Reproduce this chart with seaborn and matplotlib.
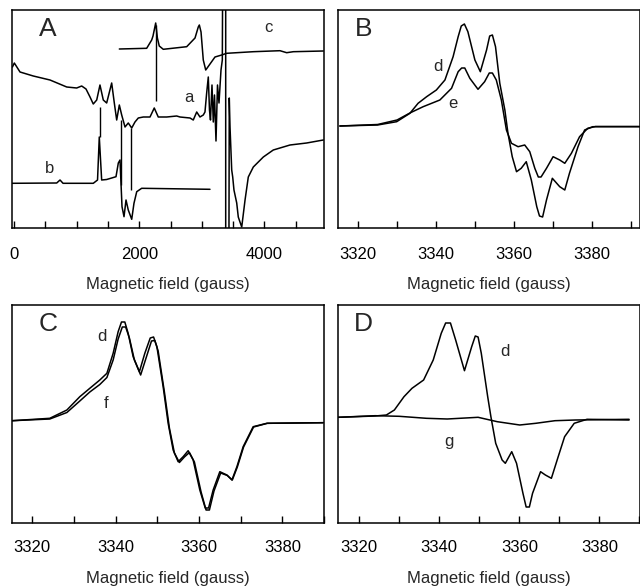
import matplotlib
matplotlib.use("Agg")
import matplotlib.pyplot as plt
import seaborn as sns

# ---------------- Panel A (wide sweep, gauss vs arbitrary intensity) ----------------
a_field = [-25, 5, 96, 308, 575, 842, 1001, 1081, 1150, 1214, 1266, 1321, 1373, 1426, 1480,
           1560, 1602, 1640, 1682, 1720, 1773, 1825, 1880, 1932, 1985, 2065, 2172, 2240, 2304,
           2439, 2598, 2651, 2811, 2863, 2918, 2970, 3023, 3050, 3077, 3103, 3122, 3138, 3162,
           3183, 3202, 3226, 3250, 3274, 3306, 3327, 3343, 3381, 3381, 3426, 3438, 3450, 3477,
           3493, 3513, 3557, 3582, 3609, 3637, 3690, 3742, 3822, 3982, 4141, 4408, 4674, 4940]
a_signal = [161, 165, 156, 152, 148, 141, 140, 142, 139, 131, 124, 128, 143, 128, 125,
            145, 125, 108, 123, 113, 101, 105, 100, 106, 110, 111, 111, 120, 111,
            111, 112, 111, 110, 108, 116, 111, 113, 116, 135, 151, 118, 108, 143,
            106, 133, 87, 143, 125, 158, 168, 400, 400, -200, -200, 130, 101, 58,
            51, 38, 25, 11, 6, 1, 28, 51, 61, 71, 78, 83, 85, 88]

b_field = [-27, 682, 735, 783, 1266, 1334, 1362, 1400, 1480, 1560, 1629, 1666, 1693, 1725,
           1757, 1789, 1825, 1880, 1916, 1960, 2039, 3130]
b_signal = [44.7, 45, 48, 44.7, 44.7, 48, 91, 48, 48.5, 50, 51.3, 65, 68, 21.3,
            11.3, 28, 18, 8.7, 24.7, 36.3, 39.7, 38.7]

c_field = [1682, 2119, 2199, 2220, 2263, 2290, 2320, 2384, 2758, 2891, 2943, 2960, 2987,
           3023, 3062, 3119, 3210, 3317, 3397, 3822, 4248, 4355, 4461, 4940]
c_signal = [179, 179.7, 188, 192, 205, 190, 182, 178.7, 181.3, 190, 201, 203, 196,
            168, 158, 163, 171, 173, 174.7, 176.3, 177.3, 175.3, 176.3, 177]

guide_field = [1373, 1704, 1864, 2261]
guide_low = [91, 43, 38, 127]
guide_high = [121, 108, 100, 203]

# ---------------- Panel B (spectra d and e) ----------------
bd_field = [3315.3, 3325, 3329.9, 3333.3, 3335.4, 3337.6, 3340.1, 3342.3, 3344.4, 3345.7,
            3346.5, 3347.3, 3348.2, 3350.0, 3351.4, 3353.0, 3353.8, 3354.5, 3355.3, 3356.4,
            3357.7, 3358.5, 3359.6, 3360.7, 3361.9, 3363.2, 3364.5, 3365.9, 3366.6, 3367.4,
            3368.4, 3369.9, 3371.8, 3373.1, 3374.3, 3376.5, 3378.2, 3380.3, 3392.3]
bd_signal = [102, 103, 106.3, 114.7, 124.7, 131.3, 138, 148, 171.3, 191.3,
             202, 204, 196.3, 168, 156.3, 178, 192, 193, 181.3, 144.7,
             118, 94.7, 71.3, 56.3, 59.7, 66.3, 48, 21.3, 12, 11,
             28, 49.7, 41.3, 38, 54.7, 81.3, 98, 101.3, 101.3]
be_field = [3315.3, 3325, 3330, 3333.3, 3336.7, 3341.0, 3344.0, 3345.7, 3346.6, 3347.4,
            3348.7, 3350.8, 3352.5, 3353.7, 3354.5, 3355.5, 3356.8, 3358.1, 3359.4, 3361.1,
            3362.8, 3364.1, 3365.4, 3366.3, 3367.0, 3368.4, 3370.1, 3371.8, 3373.1, 3374.8,
            3376.9, 3379.0, 3381, 3392.3]
be_signal = [102, 103.5, 108, 115, 121.3, 128, 139.7, 156.3, 160, 160,
             149.7, 138.7, 146.3, 155, 155, 148, 128, 98, 84.7, 81.3,
             83, 76.3, 59.7, 51, 51, 59.7, 71.3, 68, 64.7, 74.7,
             91.3, 99.7, 101.5, 101.5]

# ---------------- Panel C (spectra d and f) ----------------
cd_field = [3315.2, 3324.2, 3328.3, 3331.4, 3333.8, 3336.2, 3337.9, 3339.4, 3340.6, 3341.4,
            3342.2, 3343.0, 3344.2, 3345.7, 3347.0, 3348.3, 3349.1, 3349.9, 3351.4, 3352.6,
            3353.8, 3355.0, 3356.2, 3357.4, 3358.6, 3360.2, 3361.5, 3362.3, 3363.4, 3365.0,
            3366.7, 3367.9, 3369.1, 3370.6, 3373.0, 3376.3, 3389.8]
cd_signal = [102.3, 104.7, 113, 126.3, 134.7, 143, 149.7, 169.7, 191.3, 201,
             201, 189.7, 166.3, 151.3, 169.7, 185, 186, 176.3, 136.3, 99.7,
             73, 61.3, 66.3, 72.3, 63, 33, 15, 15, 33, 51.3,
             48, 43, 56.3, 76.3, 96.3, 99.7, 100.3]
cf_field = [3315.2, 3324.2, 3328.3, 3331.4, 3333.8, 3336.2, 3337.9, 3339.4, 3340.6, 3341.6,
            3342.4, 3343.3, 3344.5, 3346.0, 3347.3, 3348.6, 3349.4, 3350.2, 3351.7, 3352.9,
            3354.1, 3355.3, 3356.5, 3357.7, 3358.9, 3360.5, 3361.7, 3362.5, 3363.6, 3365.2,
            3366.8, 3368.0, 3369.2, 3370.7, 3373.1, 3376.4, 3389.8]
cf_signal = [102.3, 104, 110.5, 122, 131, 138.5, 145.5, 163, 184, 196,
             196, 185, 163, 148, 165, 182, 182.5, 172, 131, 95,
             70, 60.5, 66, 70.5, 61, 31, 13, 13, 32, 50,
             47.5, 43, 56, 76, 96, 99.7, 100.3]

# ---------------- Panel D (spectra d and g) ----------------
dd_field = [3314.8, 3324.0, 3326.8, 3328.8, 3331.2, 3333.2, 3336.1, 3338.5, 3340.5, 3341.6,
            3342.8, 3344.1, 3346.3, 3348.1, 3349.0, 3349.7, 3350.5, 3352.1, 3352.9, 3354.1,
            3355.7, 3356.5, 3358.1, 3359.3, 3360.9, 3361.7, 3362.5, 3363.3, 3365.3, 3366.5,
            3368.0, 3369.7, 3371.3, 3373.7, 3376.9, 3387.4]
dd_signal = [105.7, 107, 108, 113, 126.3, 134.7, 143, 163, 189.7, 200,
             200, 183, 152.3, 176.3, 187, 186, 169.7, 126.3, 106.3, 79.7,
             63, 59.7, 71.3, 59.7, 29.7, 16, 16, 29.7, 51.3, 48,
             44.7, 66.3, 86.3, 99.7, 103.7, 103]
dg_field = [3314.8, 3324.0, 3330, 3336.8, 3342, 3349.7, 3354.5, 3360.1, 3364.1, 3368.9,
            3374, 3387.4]
dg_signal = [105.7, 107.3, 106.7, 104.7, 104, 105.7, 101.3, 98, 99.7, 102.3,
             103, 103.7]

sns.set_style("ticks")
plt.rcParams["font.family"] = ["Liberation Sans", "DejaVu Sans"]
plt.rcParams["font.size"] = 12

fig = plt.figure(figsize=(6.4, 5.87), dpi=100)
W, H = 640.0, 587.0

def make_ax(x0, x1, ytop, ybot):
    return fig.add_axes([x0 / W, 1 - ybot / H, (x1 - x0) / W, (ybot - ytop) / H])

axA = make_ax(12, 324, 10, 228)
axB = make_ax(338.3, 639.5, 10, 228)
axC = make_ax(12.3, 324, 305, 523)
axD = make_ax(338.3, 639.5, 305, 523)

line_kw = dict(color="black", linewidth=1.1, sort=False, estimator=None)

sns.lineplot(x=a_field, y=a_signal, ax=axA, **line_kw)
sns.lineplot(x=b_field, y=b_signal, ax=axA, **line_kw)
sns.lineplot(x=c_field, y=c_signal, ax=axA, **line_kw)
axA.vlines(guide_field, guide_low, guide_high, color="black", linewidth=1.0)

sns.lineplot(x=bd_field, y=bd_signal, ax=axB, **line_kw)
sns.lineplot(x=be_field, y=be_signal, ax=axB, **line_kw)
sns.lineplot(x=cd_field, y=cd_signal, ax=axC, **line_kw)
sns.lineplot(x=cf_field, y=cf_signal, ax=axC, **line_kw)
sns.lineplot(x=dd_field, y=dd_signal, ax=axD, **line_kw)
sns.lineplot(x=dg_field, y=dg_signal, ax=axD, **line_kw)

axA.set_xlim(-32, 4951)
axB.set_xlim(3314.9, 3392.3)
axC.set_xlim(3315.2, 3390.0)
axD.set_xlim(3314.8, 3387.4)

for ax in (axA, axB, axC, axD):
    ax.set_ylim(0, 218)
    ax.set_yticks([])
    ax.set_ylabel("")
    for s in ax.spines.values():
        s.set_visible(True)
        s.set_linewidth(1.1)
        s.set_color("black")
    top_row = ax in (axA, axB)
    ax.tick_params(axis="x", direction="in", length=5, width=1.0,
                   pad=13.5 if top_row else 12, labelsize=12, colors="black")
    ax.set_xlabel("Magnetic field (gauss)", fontsize=12, labelpad=11 if top_row else 12)

axA.set_xticks(list(range(0, 5000, 500)))
axA.set_xticklabels([str(v) if v % 2000 == 0 else "" for v in range(0, 5000, 500)])
for ax in (axB, axC, axD):
    ticks = list(range(3320, 3391, 10))
    ax.set_xticks(ticks)
    ax.set_xticklabels([str(v) if v % 20 == 0 else "" for v in ticks])

# panel letters
for ax, letter in ((axA, "A"), (axB, "B"), (axC, "C"), (axD, "D")):
    ax.text(0.115 if ax in (axA, axC) else 0.083, 0.915, letter, transform=ax.transAxes,
            fontsize=19, ha="center", va="center")

# curve labels
axA.text(2795, 130, "a", fontsize=12, ha="center", va="center")
axA.text(575, 60, "b", fontsize=12, ha="center", va="center")
axA.text(4057, 201, "c", fontsize=12, ha="center", va="center")
axB.text(3340.5, 161.3, "d", fontsize=12, ha="center", va="center")
axB.text(3344.4, 124.7, "e", fontsize=12, ha="center", va="center")
axC.text(3336.7, 186.3, "d", fontsize=12, ha="center", va="center")
axC.text(3337.7, 119.7, "f", fontsize=12, ha="center", va="center")
axD.text(3356.5, 171.3, "d", fontsize=12, ha="center", va="center")
axD.text(3342.5, 81.3, "g", fontsize=12, ha="center", va="center")

fig.savefig("out.png", dpi=100)
